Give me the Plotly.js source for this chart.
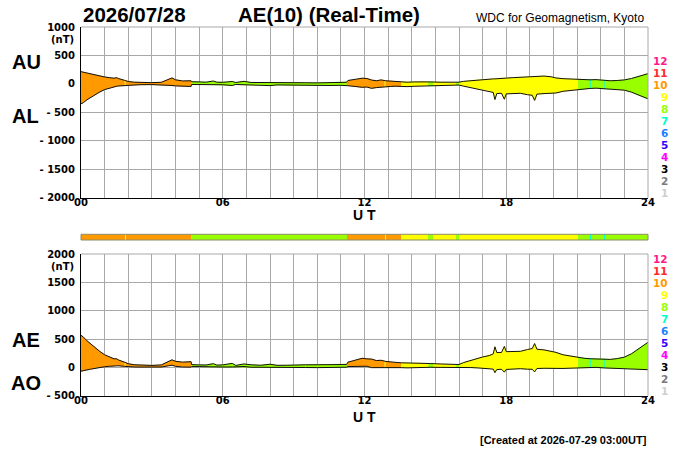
<!DOCTYPE html>
<html>
<head>
<meta charset="utf-8">
<script src="https://cdn.plot.ly/plotly-3.0.1.min.js"></script>
<style>html,body{margin:0;padding:0;background:#fff;}#chart{width:700px;height:450px;}</style>
</head>
<body>
<div id="chart"></div>
<script>
// ---- data (UT hours, nT) ----
const hours = [0.00,0.10,0.25,0.40,0.60,0.80,1.00,1.20,1.40,1.50,1.60,1.85,2.00,2.25,2.50,3.00,3.40,3.70,3.85,4.00,4.30,4.66,4.68,5.00,5.30,5.60,5.75,6.00,6.40,6.55,6.90,7.20,7.60,8.00,8.30,8.70,9.00,9.50,10.00,10.50,11.00,11.24,11.30,11.60,11.90,12.10,12.30,12.50,12.70,12.90,13.10,13.30,13.55,13.80,14.10,14.40,14.80,15.20,15.50,15.90,16.00,16.20,16.50,16.80,17.00,17.30,17.45,17.52,17.60,17.80,17.92,18.00,18.30,18.60,18.90,19.10,19.20,19.30,19.60,19.90,20.10,20.40,20.70,21.04,21.30,21.55,21.80,22.15,22.40,22.70,23.00,23.30,23.60,23.85,24.00];
const AU = [215,205,190,175,160,140,122,110,100,110,92,62,42,30,25,22,28,75,105,72,52,55,38,35,30,50,30,28,42,25,45,25,22,25,18,15,18,20,18,20,25,28,60,75,100,95,68,55,70,55,50,40,35,30,35,40,35,30,28,25,30,45,58,70,78,85,88,88,92,98,100,102,110,118,125,132,130,140,138,125,105,92,85,80,75,72,75,65,55,60,70,95,130,160,180];
const AL = [-350,-330,-280,-240,-190,-140,-100,-72,-50,-42,-36,-28,-22,-16,-14,-12,-15,-20,-28,-35,-40,-45,-10,-8,-12,-15,-10,-15,-28,-10,-15,-20,-15,-30,-18,-22,-25,-25,-28,-28,-25,-22,-32,-45,-60,-55,-78,-65,-55,-50,-45,-40,-45,-48,-42,-38,-32,-30,-28,-22,-20,-40,-65,-90,-105,-125,-150,-275,-170,-165,-270,-175,-170,-165,-190,-200,-290,-180,-170,-165,-160,-130,-115,-100,-85,-80,-75,-85,-85,-95,-110,-145,-200,-240,-262];

// number of contributing stations, by time segment
const segStart    = [0.00,1.85,1.89,4.67,11.25,12.85,12.89,13.55,14.70,14.90,15.87,16.00,21.04,21.54,21.58,22.13,22.17];
const segEnd      = [1.85,1.89,4.67,11.25,12.85,12.89,13.55,14.70,14.90,15.87,16.00,21.04,21.54,21.58,22.13,22.17,24.00];
const segStations = [10,9,10,8,10,9,10,9,8,9,8,9,8,7,8,7,8];

// station-count legend
const stationLevels = [12,11,10,9,8,7,6,5,4,3,2,1];
const stationColors = ['#ff1a8c','#ff2a2a','#ff9900','#ffff00','#99ff00','#00ffcc','#1a80ff','#3300ff','#ff00ff','#000000','#7a7a7a','#cfcfcf'];

// tick labels
const hourTicks = [0,1,2,3,4,5,6,7,8,9,10,11,12,13,14,15,16,17,18,19,20,21,22,23,24];
const hourLabels = ['00','','','','','','06','','','','','','12','','','','','','18','','','','','','24'];
const topTickVals = [-2000,-1500,-1000,-500,0,500,1000];
const topTickText = ['- 2000','- 1500','- 1000','- 500','0','500','1000'];
const botTickVals = [-500,0,500,1000,1500,2000];
const botTickText = ['- 500','0','500','1000','1500','2000'];

// ---- derived indices ----
const AE = AU.map((u,i)=>u-AL[i]);
const AO = AU.map((u,i)=>(u+AL[i])/2);

function colorOf(n){ return stationColors[stationLevels.indexOf(n)]; }
function valAt(t, ys){
  for(let i=0;i<hours.length-1;i++){
    if(t>=hours[i] && t<=hours[i+1]){
      const f=(t-hours[i])/(hours[i+1]-hours[i]);
      return ys[i]+f*(ys[i+1]-ys[i]);
    }
  }
  return ys[ys.length-1];
}
function segPoly(s,e,up,lo){
  const px=[s], pu=[valAt(s,up)], pl=[valAt(s,lo)];
  for(let i=0;i<hours.length;i++){ if(hours[i]>s && hours[i]<e){ px.push(hours[i]); pu.push(up[i]); pl.push(lo[i]); } }
  px.push(e); pu.push(valAt(e,up)); pl.push(valAt(e,lo));
  return {x: px.concat(px.slice().reverse()), y: pu.concat(pl.slice().reverse())};
}

const traces=[];
function addPanel(up,lo,xa,ya){
  for(let k=0;k<segStart.length;k++){
    const p=segPoly(segStart[k],segEnd[k],up,lo);
    const c=colorOf(segStations[k]);
    traces.push({type:'scatter',mode:'lines',x:p.x,y:p.y,fill:'toself',fillcolor:c,
      line:{color:c,width:0.6},xaxis:xa,yaxis:ya,hoverinfo:'skip'});
  }
  traces.push({type:'scatter',mode:'lines',x:hours,y:up,line:{color:'#111',width:1},xaxis:xa,yaxis:ya,hoverinfo:'skip'});
  traces.push({type:'scatter',mode:'lines',x:hours,y:lo,line:{color:'#111',width:1},xaxis:xa,yaxis:ya,hoverinfo:'skip'});
}
addPanel(AU,AL,'x','y');
addPanel(AE,AO,'x2','y2');

// colour strip of station counts
traces.push({type:'bar',x:segStart.map((s,i)=>(s+segEnd[i])/2),width:segStart.map((s,i)=>segEnd[i]-s),
  y:segStart.map(()=>1),marker:{color:segStations.map(colorOf),line:{width:0}},xaxis:'x3',yaxis:'y3',hoverinfo:'skip'});

// ---- geometry (pixels -> paper) ----
const W=700,H=450;
const px=v=>v/W, py=v=>1-v/H;
const xd=[px(81),px(648)];
const topD=[py(197.7),py(27)];
const stripD=[py(240),py(234.3)];
const botD=[py(395.7),py(254)];

const tickFont={family:'DejaVu Sans, sans-serif',size:10,color:'#000',weight:'bold'};
function xAxis(anchor,labels){
  return {domain:xd,range:[0,24],anchor:anchor,tickvals:hourTicks,ticktext:labels?hourLabels:hourTicks.map(()=>''),
    showgrid:true,gridcolor:'#a8a8a8',gridwidth:1,zeroline:false,showline:labels,linecolor:'#000',linewidth:1,
    ticks:'',tickfont:tickFont,ticklabelstandoff:-5,fixedrange:true,visible:true};
}
function yAxis(anchor,dom,rng,vals,text){
  return {domain:dom,range:rng,anchor:anchor,tickvals:vals,ticktext:text,showgrid:true,gridcolor:'#a8a8a8',gridwidth:1,
    zeroline:false,showline:true,linecolor:'#000',linewidth:1,ticks:'',tickfont:tickFont,ticklabelstandoff:3,fixedrange:true};
}

const ann=[];
function txt(x,y,t,size,opts){
  ann.push(Object.assign({xref:'paper',yref:'paper',x:px(x),y:py(y),text:t,showarrow:false,xanchor:'center',yanchor:'middle',
    font:{family:'Liberation Sans, Arial, sans-serif',size:size,color:'#000',weight:'bold'}},opts||{}));
}
txt(134,15,'2026/07/28',20.5);
txt(329,15,'AE(10) (Real-Time)',20.5);
txt(646,18,'WDC for Geomagnetism, Kyoto',12,{xanchor:'right',font:{family:'Liberation Sans, Arial, sans-serif',size:12,color:'#000',weight:'normal'}});
txt(26,62,'AU',20);
txt(25,116,'AL',20);
txt(26,340,'AE',20);
txt(26,383,'AO',20);
txt(364.5,215,'U T',14);
txt(364.5,417,'U T',14);
ann.push({xref:'paper',yref:'paper',x:px(76),y:py(39.5),text:'(nT)',showarrow:false,xanchor:'right',yanchor:'middle',font:tickFont});
ann.push({xref:'paper',yref:'paper',x:px(76),y:py(266.5),text:'(nT)',showarrow:false,xanchor:'right',yanchor:'middle',font:tickFont});
txt(649,440,'[Created at 2026-07-29 03:00UT]',11,{xanchor:'right'});
stationLevels.forEach((n,i)=>{
  const c=stationColors[i];
  ann.push({xref:'paper',yref:'paper',x:px(669.5),y:py(61+i*12.0),text:String(n),showarrow:false,xanchor:'right',yanchor:'middle',
    font:{family:'DejaVu Sans, sans-serif',size:10.5,color:c,weight:'bold'}});
  ann.push({xref:'paper',yref:'paper',x:px(669.5),y:py(259+i*12.0),text:String(n),showarrow:false,xanchor:'right',yanchor:'middle',
    font:{family:'DejaVu Sans, sans-serif',size:10.5,color:c,weight:'bold'}});
});

const shapes=[
  {type:'line',xref:'paper',yref:'paper',x0:xd[0],x1:xd[1],y0:topD[1],y1:topD[1],line:{color:'#a8a8a8',width:1}},
  {type:'line',xref:'paper',yref:'paper',x0:xd[1],x1:xd[1],y0:topD[0],y1:topD[1],line:{color:'#a8a8a8',width:1}},
  {type:'line',xref:'paper',yref:'paper',x0:xd[0],x1:xd[1],y0:botD[1],y1:botD[1],line:{color:'#a8a8a8',width:1}},
  {type:'line',xref:'paper',yref:'paper',x0:xd[1],x1:xd[1],y0:botD[0],y1:botD[1],line:{color:'#a8a8a8',width:1}},
  {type:'rect',xref:'paper',yref:'paper',x0:xd[0],x1:xd[1],y0:stripD[0],y1:stripD[1],line:{color:'#8c8c6a',width:1},layer:'above'}
];

const layout={width:W,height:H,autosize:false,margin:{l:0,r:0,t:0,b:0,pad:0},paper_bgcolor:'#fff',plot_bgcolor:'rgba(0,0,0,0)',
  showlegend:false,bargap:0,
  xaxis:xAxis('y',true), yaxis:yAxis('x',topD,[-2000,1000],topTickVals,topTickText),
  xaxis2:xAxis('y2',true), yaxis2:yAxis('x2',botD,[-500,2000],botTickVals,botTickText),
  xaxis3:{domain:xd,range:[0,24],anchor:'y3',visible:false,fixedrange:true},
  yaxis3:{domain:stripD,range:[0,1],anchor:'x3',visible:false,fixedrange:true},
  annotations:ann, shapes:shapes};

Plotly.newPlot('chart',traces,layout,{staticPlot:true,displayModeBar:false});
</script>
</body>
</html>
